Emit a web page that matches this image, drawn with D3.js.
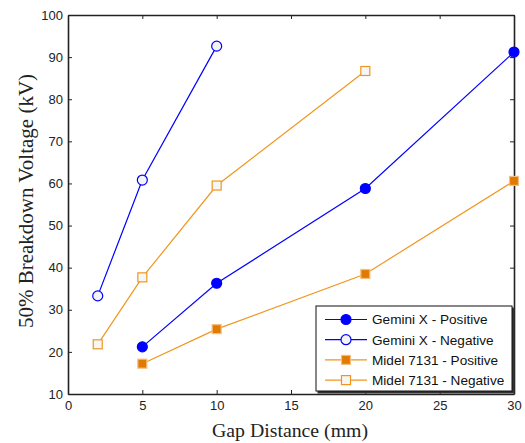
<!DOCTYPE html>
<html>
<head>
<meta charset="utf-8">
<script src="https://d3js.org/d3.v7.min.js"></script>
<style>
body { margin: 0; background: #fff; }
svg { display: block; }
.tick text { font-family: Arial, "Liberation Sans", sans-serif; font-size: 13px; fill: #222; }
</style>
</head>
<body>
<svg></svg>
<script>
var screen = {width: 525, height: 443}
var margins = {top: 15, right: 11, bottom: 49, left: 68}

// data
var gapX = [0, 5, 10, 15, 20, 25, 30]
var voltTicks = [10, 20, 30, 40, 50, 60, 70, 80, 90, 100]

var geminiPosX = [5, 10, 20, 30]
var geminiPosY = [21.2, 36.3, 58.8, 91.2]
var geminiNegX = [2, 5, 10]
var geminiNegY = [33.3, 60.8, 92.6]
var midelPosX = [5, 10, 20, 30]
var midelPosY = [17.2, 25.4, 38.5, 60.6]
var midelNegX = [2, 5, 10, 20]
var midelNegY = [21.8, 37.7, 59.5, 86.7]

var seriesNames = ["Gemini X - Positive", "Gemini X - Negative", "Midel 7131 - Positive", "Midel 7131 - Negative"]

var series = [
    {name: seriesNames[0], xs: geminiPosX, ys: geminiPosY, line: "#0000ff", stroke: "#0000ff", fill: "#0000ff", shape: "circle"},
    {name: seriesNames[1], xs: geminiNegX, ys: geminiNegY, line: "#0000ff", stroke: "#0000ff", fill: "#f4f4f4", shape: "circle"},
    {name: seriesNames[2], xs: midelPosX, ys: midelPosY, line: "#f0961e", stroke: "#f4be82", fill: "#e07b00", shape: "square"},
    {name: seriesNames[3], xs: midelNegX, ys: midelNegY, line: "#f0961e", stroke: "#f0961e", fill: "#f6f6f6", shape: "square"}
]

var svg = d3.select("svg")
    .attr("width", screen.width)
    .attr("height", screen.height)

var width = screen.width - margins.left - margins.right
var height = screen.height - margins.top - margins.bottom

var xScale = d3.scaleLinear().domain([0, 30]).range([0, width])
var yScale = d3.scaleLinear().domain([10, 100]).range([height, 0])

var graph = svg.append("g")
    .attr("transform", "translate(" + margins.left + "," + margins.top + ")")

// axes, ticks pointing inward, on all four sides
var axisColor = "#222"
var xAxis = d3.axisBottom(xScale).tickValues(gapX).tickSizeInner(-4).tickSizeOuter(0).tickPadding(7)
var yAxis = d3.axisLeft(yScale).tickValues(voltTicks).tickSizeInner(-4).tickSizeOuter(0).tickPadding(5)
var xTop = d3.axisTop(xScale).tickValues(gapX).tickSizeInner(-4).tickSizeOuter(0).tickFormat("")
var yRight = d3.axisRight(yScale).tickValues(voltTicks).tickSizeInner(-4).tickSizeOuter(0).tickFormat("")

graph.append("g").attr("transform", "translate(0," + height + ")").call(xAxis)
graph.append("g").call(yAxis)
graph.append("g").call(xTop)
graph.append("g").attr("transform", "translate(" + width + ",0)").call(yRight)

graph.selectAll(".domain").attr("stroke", axisColor).attr("stroke-width", 1.6)
graph.selectAll(".tick line").attr("stroke", axisColor).attr("stroke-width", 1)

// axis titles
svg.append("text")
    .attr("x", 290)
    .attr("y", 437)
    .attr("text-anchor", "middle")
    .attr("font-family", "'Liberation Serif', 'Times New Roman', serif")
    .attr("font-size", 19.8)
    .attr("fill", "#222")
    .text("Gap Distance (mm)")

svg.append("text")
    .attr("transform", "translate(33,201)rotate(-90)")
    .attr("text-anchor", "middle")
    .attr("font-family", "'Liberation Serif', 'Times New Roman', serif")
    .attr("font-size", 21)
    .attr("fill", "#222")
    .text("50% Breakdown Voltage (kV)")

var drawMarker = function (g, s, cx, cy)
{
    if (s.shape == "circle") {
        g.append("circle")
            .attr("cx", cx).attr("cy", cy).attr("r", 5)
            .attr("fill", s.fill).attr("stroke", s.stroke).attr("stroke-width", 1.2)
    } else {
        g.append("rect")
            .attr("x", cx - 4.5).attr("y", cy - 4.5)
            .attr("width", 9).attr("height", 9)
            .attr("fill", s.fill).attr("stroke", s.stroke).attr("stroke-width", 1.2)
    }
}

var lineGenerator = d3.line()
    .x(function (d) { return xScale(d[0]) })
    .y(function (d) { return yScale(d[1]) })

series.forEach(function (s)
{
    var pts = s.xs.map(function (x, i) { return [x, s.ys[i]] })
    var g = graph.append("g")
    g.append("path")
        .datum(pts)
        .attr("d", lineGenerator)
        .attr("fill", "none")
        .attr("stroke", s.line)
        .attr("stroke-width", 1.2)
    pts.forEach(function (p) { drawMarker(g, s, xScale(p[0]), yScale(p[1])) })
})

// legend
var legend = svg.append("g").attr("transform", "translate(316,306)")
legend.append("rect")
    .attr("x", 1.5).attr("y", 1.5).attr("width", 197).attr("height", 86)
    .attr("fill", "#333")
legend.append("rect")
    .attr("width", 196).attr("height", 85)
    .attr("fill", "#fff").attr("stroke", "#111").attr("stroke-width", 1)

series.forEach(function (s, i)
{
    var gy = 13.5 + i * 20.2
    var g = legend.append("g")
    g.append("line")
        .attr("x1", 9).attr("x2", 51).attr("y1", gy).attr("y2", gy)
        .attr("stroke", s.line).attr("stroke-width", 1.2)
    drawMarker(g, s, 30, gy)
    g.append("text")
        .attr("x", 56).attr("y", gy + 4.8)
        .attr("font-family", "Arial, 'Liberation Sans', sans-serif")
        .attr("font-size", 13.6)
        .attr("fill", "#111")
        .text(s.name)
})
</script>
</body>
</html>
